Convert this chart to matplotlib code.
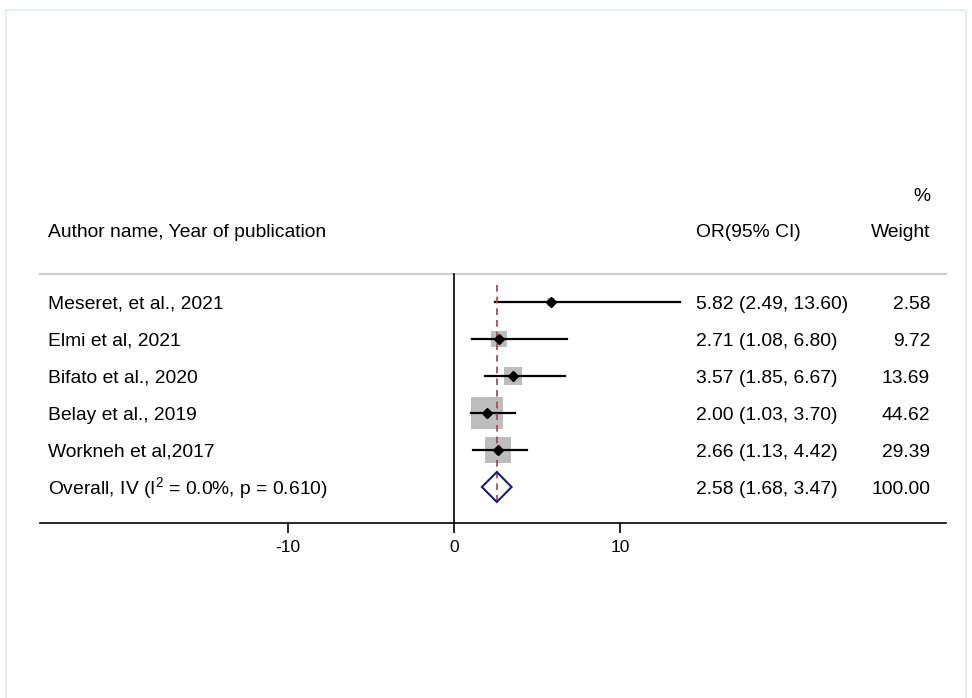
import matplotlib
matplotlib.use("Agg")
import matplotlib.pyplot as plt
from matplotlib.patches import Polygon, Rectangle
from matplotlib.transforms import offset_copy

plt.rcParams['font.family'] = ['Liberation Sans', 'DejaVu Sans']
plt.rcParams['mathtext.fontset'] = 'custom'
plt.rcParams['mathtext.rm'] = 'Liberation Sans'
plt.rcParams['mathtext.it'] = 'Liberation Sans'

studies = ["Meseret, et al., 2021", "Elmi et al, 2021", "Bifato et al., 2020",
           "Belay et al., 2019", "Workneh et al,2017"]
or_vals = [5.82, 2.71, 3.57, 2.00, 2.66]
ci_lo = [2.49, 1.08, 1.85, 1.03, 1.13]
ci_hi = [13.60, 6.80, 6.67, 3.70, 4.42]
weights = [2.58, 9.72, 13.69, 44.62, 29.39]
overall_label = r"Overall, IV (I$^{2}$ = 0.0%, p = 0.610)"
overall_or, overall_lo, overall_hi, overall_w = 2.58, 1.68, 3.47, 100.00
xticks = [-10, 0, 10]

W, H = 972, 698
fig = plt.figure(figsize=(W/100, H/100), dpi=100)

# light frame
fig.patches.append(Rectangle((6/W, -0.01), 960/W, 1 - 10/H + 0.01, transform=fig.transFigure,
                             fill=False, edgecolor='#e6eeee', linewidth=1.5))

ax_left, ax_right = 40, 946
ax_top, ax_bot = 180, 523
ax = fig.add_axes([ax_left/W, 1 - ax_bot/H, (ax_right-ax_left)/W, (ax_bot-ax_top)/H])
ppu = 16.6
ax.set_xlim((ax_left-454)/ppu, (ax_right-454)/ppu)
row_px = 37
row0 = 302
ax.set_ylim((ax_bot-row0)/row_px, (ax_top-row0)/row_px)

for s in ['top', 'right', 'left']:
    ax.spines[s].set_visible(False)
ax.spines['bottom'].set_linewidth(1.2)
ax.set_yticks([])
ax.set_xticks(xticks)
ax.set_xticklabels([str(t) for t in xticks], fontsize=12.5)
ax.tick_params(axis='x', length=7, width=1.2, pad=5)

fs = 13.9
x_lab = (48-454)/ppu
x_or = (696-454)/ppu
x_w = (930-454)/ppu
# baseline sits half a cap height below the row centre
tr = offset_copy(ax.transData, fig=fig, x=0, y=-fs*0.716/2, units='points')


def put(x, y, s, ha):
    ax.text(x, y, s, fontsize=fs, va='baseline', ha=ha, transform=tr)


# headers
put(x_lab, (230-row0)/row_px, "Author name, Year of publication", 'left')
put(x_or, (230-row0)/row_px, "OR(95% CI)", 'left')
put(x_w, (230-row0)/row_px, "Weight", 'right')
put(x_w, (194-row0)/row_px, "%", 'right')

sep_y = (274-row0)/row_px
ax.plot([ax.get_xlim()[0], ax.get_xlim()[1]], [sep_y, sep_y], color='#cccccc', lw=1.5, clip_on=False)
ax.plot([0, 0], [sep_y, ax.get_ylim()[0]], color='black', lw=1.2)

# dashed overall line
ax.plot([overall_or, overall_or], [(285-row0)/row_px, (500-row0)/row_px],
        color='#a8404e', lw=1.2, ls=(0, (4, 3)), zorder=4)

for i, (name, o, lo, hi, w) in enumerate(zip(studies, or_vals, ci_lo, ci_hi, weights)):
    ax.scatter([o], [i], marker='s', s=w*12.4, color='#bdbdbd', zorder=2, linewidths=0)
    ax.plot([lo, hi], [i, i], color='black', lw=1.6, zorder=3)
    ax.plot([o], [i], marker='D', color='black', ms=5, zorder=5)
    put(x_lab, i, name, 'left')
    put(x_or, i, f"{o:.2f} ({lo:.2f}, {hi:.2f})", 'left')
    put(x_w, i, f"{w:.2f}", 'right')

n = len(studies)
hh = 15/row_px
ax.add_patch(Polygon([[overall_lo, n], [overall_or, n-hh], [overall_hi, n], [overall_or, n+hh]],
                     closed=True, fill=False, edgecolor='#1c1c78', lw=1.5, zorder=6))
put(x_lab, n, overall_label, 'left')
put(x_or, n, f"{overall_or:.2f} ({overall_lo:.2f}, {overall_hi:.2f})", 'left')
put(x_w, n, f"{overall_w:.2f}", 'right')

fig.savefig("out.png", dpi=100)
